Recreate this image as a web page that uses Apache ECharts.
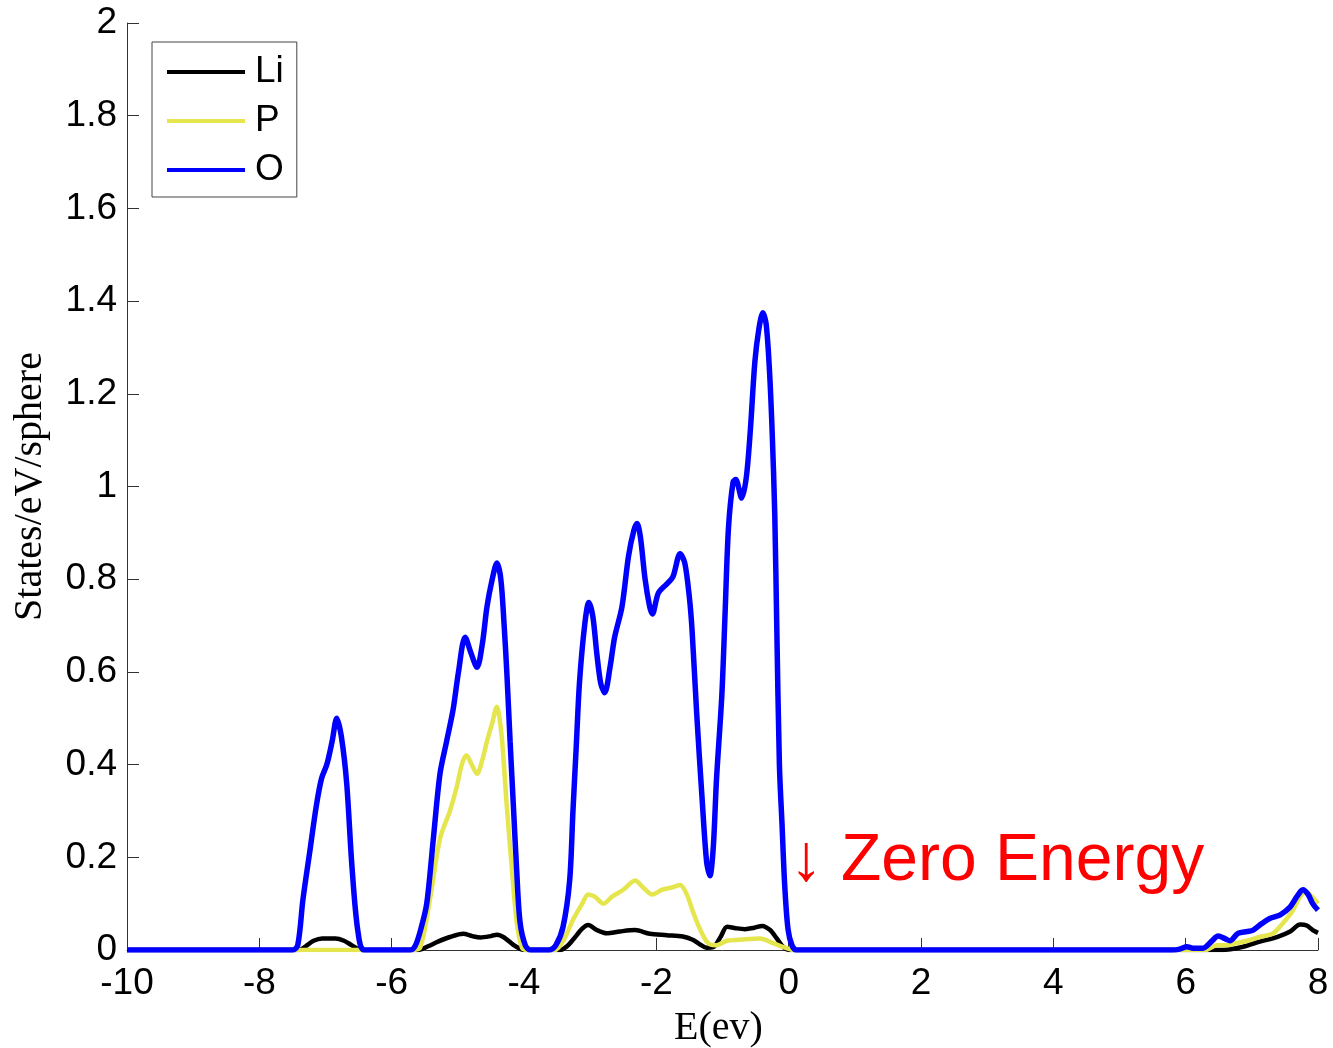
<!DOCTYPE html>
<html>
<head>
<meta charset="utf-8">
<title>Partial density of states</title>
<script src="https://cdn.jsdelivr.net/npm/echarts@6/dist/echarts.min.js"></script>
<style>
  html, body { margin: 0; padding: 0; background: #ffffff; }
  #chart { width: 1333px; height: 1048px; }
</style>
</head>
<body>
<div id="chart"></div>
<script>
// Energy axis range and ticks (eV)
const energyMin = -10;
const energyMax = 8;
const energyStep = 2;
// DOS axis range and ticks (states/eV/sphere)
const dosMin = 0;
const dosMax = 2;
const dosStep = 0.2;

const seriesNames = ['Li', 'P', 'O'];
const seriesColors = ['#000000', '#e5e54e', '#0000ff'];

// [energy, DOS] samples for each projected species
const liDos = [
  [-10, 0], [-7.40, 0], [-7.30, 0.008], [-7.18, 0.020], [-7.05, 0.025], [-6.85, 0.025],
  [-6.72, 0.020], [-6.60, 0.010], [-6.50, 0.002], [-6.45, 0],
  [-5.60, 0], [-5.45, 0.008], [-5.30, 0.018], [-5.12, 0.028], [-4.92, 0.035], [-4.78, 0.030],
  [-4.66, 0.027], [-4.50, 0.030], [-4.41, 0.033], [-4.30, 0.027], [-4.16, 0.011], [-4.05, 0.002], [-3.98, 0],
  [-3.45, 0], [-3.35, 0.008], [-3.26, 0.022], [-3.12, 0.046], [-3.03, 0.054], [-2.90, 0.043],
  [-2.75, 0.036], [-2.55, 0.040], [-2.32, 0.043], [-2.10, 0.035], [-1.84, 0.032], [-1.60, 0.029],
  [-1.45, 0.022], [-1.34, 0.012], [-1.24, 0.005], [-1.14, 0.006], [-1.03, 0.028], [-0.93, 0.050],
  [-0.80, 0.047], [-0.66, 0.045], [-0.52, 0.048], [-0.40, 0.052], [-0.28, 0.043], [-0.18, 0.025],
  [-0.08, 0.006], [0.00, 0],
  [6.55, 0], [6.87, 0.007], [7.12, 0.018], [7.38, 0.028], [7.58, 0.040], [7.73, 0.055],
  [7.83, 0.053], [7.92, 0.043], [8.00, 0.037]
];

const pDos = [
  [-10, 0], [-5.70, 0], [-5.57, 0.005], [-5.42, 0.11], [-5.27, 0.24], [-5.12, 0.30], [-5.02, 0.35],
  [-4.94, 0.40], [-4.87, 0.42], [-4.79, 0.40], [-4.71, 0.38], [-4.63, 0.41], [-4.56, 0.45],
  [-4.48, 0.49], [-4.41, 0.525], [-4.37, 0.50], [-4.33, 0.45], [-4.26, 0.31], [-4.18, 0.17],
  [-4.11, 0.06], [-4.03, 0.005], [-3.95, 0],
  [-3.55, 0], [-3.48, 0.005], [-3.37, 0.03], [-3.26, 0.065], [-3.12, 0.10], [-3.03, 0.12],
  [-2.93, 0.115], [-2.80, 0.10], [-2.67, 0.115], [-2.50, 0.13], [-2.32, 0.15], [-2.20, 0.135],
  [-2.06, 0.12], [-1.91, 0.13], [-1.76, 0.135], [-1.64, 0.14], [-1.54, 0.12], [-1.44, 0.08],
  [-1.34, 0.045], [-1.22, 0.015], [-1.11, 0.01], [-0.93, 0.02], [-0.74, 0.022], [-0.43, 0.025],
  [-0.24, 0.015], [-0.03, 0.004], [0.06, 0],
  [6.30, 0], [6.47, 0.01], [6.62, 0.01], [6.77, 0.015], [6.93, 0.02], [7.12, 0.028], [7.32, 0.036],
  [7.47, 0.058], [7.61, 0.083], [7.73, 0.115], [7.81, 0.125], [7.91, 0.115], [8.00, 0.10]
];

const oDos = [
  [-10, 0], [-7.50, 0], [-7.42, 0.01], [-7.34, 0.11], [-7.23, 0.22], [-7.14, 0.31], [-7.06, 0.37],
  [-6.98, 0.40], [-6.90, 0.45], [-6.83, 0.50], [-6.76, 0.46], [-6.68, 0.36], [-6.60, 0.18],
  [-6.51, 0.04], [-6.41, 0],
  [-5.72, 0], [-5.64, 0.01], [-5.55, 0.05], [-5.47, 0.10], [-5.37, 0.24], [-5.27, 0.38],
  [-5.17, 0.45], [-5.07, 0.52], [-4.99, 0.60], [-4.89, 0.675], [-4.80, 0.64], [-4.71, 0.61],
  [-4.63, 0.66], [-4.56, 0.74], [-4.48, 0.80], [-4.41, 0.835], [-4.35, 0.80], [-4.30, 0.70],
  [-4.26, 0.60], [-4.21, 0.45], [-4.16, 0.31], [-4.11, 0.17], [-4.06, 0.06], [-3.98, 0.01], [-3.90, 0],
  [-3.62, 0], [-3.52, 0.01], [-3.41, 0.05], [-3.31, 0.15], [-3.26, 0.30], [-3.21, 0.44],
  [-3.16, 0.58], [-3.08, 0.705], [-3.02, 0.75], [-2.96, 0.72], [-2.90, 0.64], [-2.84, 0.575],
  [-2.78, 0.555], [-2.70, 0.61], [-2.63, 0.675], [-2.52, 0.74], [-2.42, 0.85], [-2.34, 0.905],
  [-2.29, 0.92], [-2.24, 0.89], [-2.17, 0.80], [-2.10, 0.74], [-2.06, 0.725], [-1.97, 0.77],
  [-1.84, 0.79], [-1.75, 0.805], [-1.64, 0.855], [-1.57, 0.835], [-1.50, 0.76], [-1.46, 0.69],
  [-1.39, 0.51], [-1.31, 0.33], [-1.24, 0.19], [-1.19, 0.16], [-1.14, 0.22], [-1.09, 0.37],
  [-1.01, 0.55], [-0.96, 0.73], [-0.91, 0.91], [-0.84, 1.01], [-0.80, 1.015], [-0.71, 0.975],
  [-0.64, 1.02], [-0.58, 1.12], [-0.51, 1.27], [-0.45, 1.34], [-0.39, 1.375], [-0.34, 1.35],
  [-0.29, 1.25], [-0.25, 1.12], [-0.21, 0.94], [-0.18, 0.70], [-0.14, 0.40], [-0.10, 0.27],
  [-0.06, 0.14], [-0.01, 0.045], [0.05, 0.01], [0.12, 0],
  [5.80, 0], [5.91, 0.002], [6.02, 0.007], [6.11, 0.004], [6.26, 0.004], [6.40, 0.02],
  [6.49, 0.03], [6.60, 0.024], [6.67, 0.02], [6.79, 0.036], [6.93, 0.04], [7.02, 0.043],
  [7.15, 0.057], [7.27, 0.068], [7.43, 0.076], [7.58, 0.093], [7.68, 0.115], [7.77, 0.13],
  [7.85, 0.12], [7.92, 0.10], [8.00, 0.086]
];

const seriesData = [liDos, pDos, oDos];
const seriesWidths = [4.5, 4.5, 5.5];

// Fermi level marker text, anchored in data coordinates
const fermiNote = '\u2193 Zero Energy';
const fermiNoteAt = [0, 0.19];

const sansFont = '"Liberation Sans", Arial, sans-serif';
const serifFont = '"Liberation Serif", "Times New Roman", serif';
const axisColor = '#333333';

const chart = echarts.init(document.getElementById('chart'), null, { renderer: 'canvas' });

const option = {
  backgroundColor: '#ffffff',
  animation: false,
  grid: {
    left: 127, right: 15, top: 23, bottom: 98,
    containLabel: false,
    outerBoundsMode: 'none'
  },
  legend: {
    data: seriesNames,
    orient: 'vertical',
    left: 152,
    top: 42,
    padding: [10, 13, 7, 15],
    itemGap: 9,
    itemWidth: 78,
    itemHeight: 4,
    icon: 'rect',
    selectedMode: false,
    backgroundColor: '#ffffff',
    borderColor: '#444444',
    borderWidth: 1,
    borderRadius: 0,
    textStyle: { fontFamily: sansFont, fontSize: 37, color: '#000000', lineHeight: 40, padding: [0, 0, 0, 5] }
  },
  xAxis: {
    type: 'value',
    min: energyMin,
    max: energyMax,
    interval: energyStep,
    name: 'E(ev)',
    nameLocation: 'middle',
    nameGap: 58,
    nameTextStyle: { fontFamily: serifFont, fontSize: 40, color: '#000000', padding: [0, 8, 0, 0] },
    axisLine: { show: true, onZero: false, lineStyle: { color: axisColor, width: 1 } },
    axisTick: { show: true, inside: true, length: 12, lineStyle: { color: axisColor, width: 1 } },
    axisLabel: { fontFamily: sansFont, fontSize: 37, color: '#000000', margin: 15 },
    splitLine: { show: false }
  },
  yAxis: {
    type: 'value',
    min: dosMin,
    max: dosMax,
    interval: dosStep,
    name: 'States/eV/sphere',
    nameLocation: 'middle',
    nameGap: 77,
    nameTextStyle: { fontFamily: serifFont, fontSize: 40, color: '#000000' },
    axisLine: { show: true, onZero: false, lineStyle: { color: axisColor, width: 1 } },
    axisTick: { show: true, inside: true, length: 12, lineStyle: { color: axisColor, width: 1 } },
    axisLabel: { fontFamily: sansFont, fontSize: 37, color: '#000000', margin: 10 },
    splitLine: { show: false }
  },
  series: seriesNames.map((name, i) => ({
    name: name,
    type: 'line',
    data: seriesData[i],
    showSymbol: false,
    symbol: 'none',
    smooth: 0.3,
    clip: true,
    color: seriesColors[i],
    lineStyle: { color: seriesColors[i], width: seriesWidths[i] },
    z: 2 + i
  }))
};

chart.setOption(option);

// Place the Fermi-level note at its data position
const notePx = chart.convertToPixel({ gridIndex: 0 }, fermiNoteAt);
chart.setOption({
  graphic: [{
    type: 'text',
    x: notePx[0] + 1,
    y: notePx[1],
    z: 100,
    style: {
      text: fermiNote,
      font: '66px ' + sansFont,
      fill: '#ff0000',
      align: 'left',
      verticalAlign: 'middle'
    }
  }]
});
</script>
</body>
</html>
